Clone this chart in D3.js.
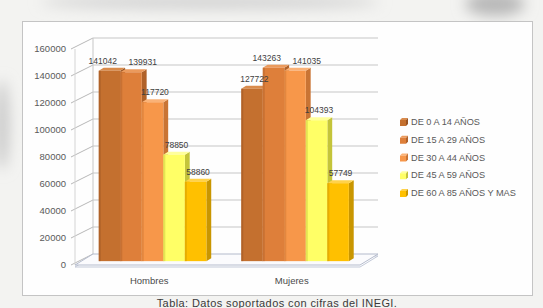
<!DOCTYPE html>
<html>
<head>
<meta charset="utf-8">
<script src="https://cdn.jsdelivr.net/npm/d3@7"></script>
<style>
    body { margin: 0; background: #f3f3f1; }
    svg { display: block; }
</style>
</head>
<body>
<svg id="chart" width="543" height="308"></svg>
<script>
// Data
const CATEGORIES = ["Hombres", "Mujeres"];
const SERIES = [
    "DE 0 A 14 AÑOS",
    "DE 15 A 29 AÑOS",
    "DE 30 A 44 AÑOS",
    "DE 45 A 59 AÑOS",
    "DE 60 A 85 AÑOS Y MAS"
];
const HOMBRES_VALUES = [141042, 139931, 117720, 78850, 58860];
const MUJERES_VALUES = [127722, 143263, 141035, 104393, 57749];
const Y_TICKS = [0, 20000, 40000, 60000, 80000, 100000, 120000, 140000, 160000];
const CAPTION = "Tabla: Datos soportados con cifras del INEGI.";

// Face colours per series: front, side, top
const FRONT_COLORS = ["#c4702f", "#de7f3a", "#f7974a", "#ffff66", "#ffc000"];
const SIDE_COLORS = ["#985322", "#b0622a", "#c97434", "#c4c43a", "#c99600"];
const TOP_COLORS = ["#d98b4c", "#eb9a5c", "#fab277", "#ffff9c", "#ffd24a"];

class ColumnChart3D {

    constructor(svgId) {
        const self = this;
        self._svg = d3.select("#" + svgId);

        // depth of the 3D box, and where the bars sit inside it
        self._depthX = 18;
        self._depthY = -11;
        self._frontFrac = 0.35;
        self._backFrac = 0.62;

        self._x0 = d3.scaleBand()
            .domain(CATEGORIES)
            .range([75, 360]);

        self._x1 = d3.scaleBand()
            .domain(SERIES)
            .range([0, self._x0.bandwidth()])
            .paddingInner(0)
            .paddingOuter(0.81);

        self._y = d3.scaleLinear()
            .domain([0, 160000])
            .range([265, 49]);
    }

    draw() {
        const self = this;
        const svg = self._svg;
        const dx = self._depthX;
        const dy = self._depthY;
        const x0 = self._x0;
        const x1 = self._x1;
        const y = self._y;
        const [left, right] = x0.range();

        const drawBackground = () => {
            const defs = svg.append("defs");
            defs.append("filter")
                .attr("id", "blur")
                .attr("x", "-50%").attr("y", "-50%")
                .attr("width", "200%").attr("height", "200%")
                .append("feGaussianBlur")
                .attr("stdDeviation", 7);

            const smudges = svg.append("g").attr("filter", "url(#blur)");
            smudges.append("ellipse")
                .attr("cx", 210).attr("cy", 2).attr("rx", 170).attr("ry", 7)
                .attr("fill", "#d2d2d2");
            smudges.append("ellipse")
                .attr("cx", 495).attr("cy", 4).attr("rx", 30).attr("ry", 12)
                .attr("fill", "#b8b8b8");
            smudges.append("ellipse")
                .attr("cx", 2).attr("cy", 125).attr("rx", 7).attr("ry", 45)
                .attr("fill", "#c8c8c8");

            svg.append("rect")
                .attr("x", 22.5).attr("y", 21.5)
                .attr("width", 510).attr("height", 274)
                .attr("fill", "#fefefe")
                .attr("stroke", "#c4c4c4");
        };

        const drawWalls = () => {
            const g = svg.append("g").attr("fill", "none");

            // back wall gridlines
            g.selectAll(".grid")
                .data(Y_TICKS.filter((t) => t > 0))
                .enter()
                .append("line")
                .classed("grid", true)
                .attr("x1", left + dx).attr("x2", right + dx)
                .attr("y1", (t) => y(t) + dy).attr("y2", (t) => y(t) + dy)
                .attr("stroke", "#c6c6c6");

            // side wall slants
            g.selectAll(".slant")
                .data(Y_TICKS)
                .enter()
                .append("line")
                .classed("slant", true)
                .attr("x1", left - 4).attr("x2", left + dx)
                .attr("y1", (t) => y(t)).attr("y2", (t) => y(t) + dy)
                .attr("stroke", "#b8b8b8");

            g.append("line")
                .attr("x1", left + dx).attr("x2", left + dx)
                .attr("y1", y(0) + dy).attr("y2", y(160000) + dy)
                .attr("stroke", "#c6c6c6");
            g.append("line")
                .attr("x1", left).attr("x2", left)
                .attr("y1", y(0)).attr("y2", y(160000))
                .attr("stroke", "#d4d4d4");

            // floor, with a thin edge
            const floor = [
                [left, y(0)], [right, y(0)],
                [right + dx, y(0) + dy], [left + dx, y(0) + dy]
            ];
            g.append("polygon")
                .attr("points", floor.map((p) => [p[0], p[1] + 2].join(",")).join(" "))
                .attr("stroke", "#c3c9d8");
            g.append("polygon")
                .attr("points", floor.map((p) => p.join(",")).join(" "))
                .attr("fill", "#fbfbfd")
                .attr("stroke", "#b4bbcc");
        };

        const drawAxisLabels = () => {
            svg.append("g")
                .selectAll("text")
                .data(Y_TICKS)
                .enter()
                .append("text")
                .attr("x", 66)
                .attr("y", (t) => y(t))
                .attr("dy", "0.35em")
                .attr("text-anchor", "end")
                .attr("font-family", "Liberation Sans, Arial, sans-serif")
                .attr("font-size", 9.5)
                .attr("fill", "#5a5a5a")
                .text((t) => t);

            svg.append("g")
                .selectAll("text")
                .data(CATEGORIES)
                .enter()
                .append("text")
                .attr("x", (c) => x0(c) + x0.bandwidth() / 2 + 3)
                .attr("y", 284)
                .attr("text-anchor", "middle")
                .attr("font-family", "Liberation Sans, Arial, sans-serif")
                .attr("font-size", 9.5)
                .attr("fill", "#4a4a4a")
                .text((c) => c);
        };

        const barInfo = [];
        CATEGORIES.forEach((category, ci) => {
            const values = ci === 0 ? HOMBRES_VALUES : MUJERES_VALUES;
            SERIES.forEach((series, si) => {
                barInfo.push({
                    "category": category,
                    "series": series,
                    "index": si,
                    "value": values[si]
                });
            });
        });

        const barGeometry = (d) => {
            const ff = self._frontFrac;
            const sx = (self._backFrac - ff) * dx;
            const sy = (self._backFrac - ff) * dy;
            const x = x0(d["category"]) + x1(d["series"]) + ff * dx;
            const w = x1.bandwidth();
            const top = y(d["value"]) + ff * dy;
            const bottom = y(0) + ff * dy;
            return {x: x, w: w, top: top, bottom: bottom, sx: sx, sy: sy};
        };

        const drawBars = () => {
            const toPoints = (pts) => pts.map((p) => p.join(",")).join(" ");

            const groups = svg.append("g")
                .selectAll(".bar")
                .data(barInfo)
                .enter()
                .append("g")
                .classed("bar", true);

            groups.append("polygon")
                .attr("points", (d) => {
                    const b = barGeometry(d);
                    return toPoints([
                        [b.x + b.w, b.top], [b.x + b.w + b.sx, b.top + b.sy],
                        [b.x + b.w + b.sx, b.bottom + b.sy], [b.x + b.w, b.bottom]
                    ]);
                })
                .attr("fill", (d) => SIDE_COLORS[d["index"]]);

            groups.append("polygon")
                .attr("points", (d) => {
                    const b = barGeometry(d);
                    return toPoints([
                        [b.x, b.top], [b.x + b.sx, b.top + b.sy],
                        [b.x + b.w + b.sx, b.top + b.sy], [b.x + b.w, b.top]
                    ]);
                })
                .attr("fill", (d) => TOP_COLORS[d["index"]]);

            groups.append("rect")
                .attr("x", (d) => barGeometry(d).x)
                .attr("y", (d) => barGeometry(d).top)
                .attr("width", (d) => barGeometry(d).w)
                .attr("height", (d) => barGeometry(d).bottom - barGeometry(d).top)
                .attr("fill", (d) => FRONT_COLORS[d["index"]]);

            // darker seam on the left of every front face
            groups.append("rect")
                .attr("x", (d) => barGeometry(d).x)
                .attr("y", (d) => barGeometry(d).top)
                .attr("width", 2)
                .attr("height", (d) => barGeometry(d).bottom - barGeometry(d).top)
                .attr("fill", (d) => SIDE_COLORS[d["index"]])
                .attr("opacity", 0.45);
        };

        const drawValueLabels = () => {
            const labelW = 30;
            const labelH = 9;
            const labels = barInfo.map((d) => {
                const b = barGeometry(d);
                return {
                    "datum": d,
                    "x": b.x + b.w / 2 + b.sx / 2,
                    "y": b.top + b.sy - 7
                };
            });

            // push apart labels that would sit on top of each other
            for (let pass = 0; pass < 4; pass++) {
                for (let i = 1; i < labels.length; i++) {
                    const a = labels[i - 1];
                    const b = labels[i];
                    if (a["datum"]["category"] !== b["datum"]["category"]) {
                        continue;
                    }
                    const overlapX = labelW + 10 - (b["x"] - a["x"]);
                    const overlapY = labelH - Math.abs(b["y"] - a["y"]);
                    if (overlapX > 0 && overlapY > 0) {
                        a["x"] -= overlapX / 2;
                        b["x"] += overlapX / 2;
                    }
                }
            }

            svg.append("g")
                .selectAll("text")
                .data(labels)
                .enter()
                .append("text")
                .attr("x", (l) => l["x"])
                .attr("y", (l) => l["y"])
                .attr("dy", "0.35em")
                .attr("text-anchor", "middle")
                .attr("font-family", "Liberation Sans, Arial, sans-serif")
                .attr("font-size", 8.5)
                .attr("fill", "#404040")
                .text((l) => l["datum"]["value"]);
        };

        const drawLegend = () => {
            const legendY = d3.scalePoint()
                .domain(SERIES)
                .range([122, 193]);

            const items = svg.append("g")
                .selectAll(".legend-item")
                .data(SERIES)
                .enter()
                .append("g")
                .classed("legend-item", true)
                .attr("transform", (s) => "translate(403 " + legendY(s) + ")");

            items.append("polygon")
                .attr("points", "-3,-2 -1,-4 5,-4 3,-2")
                .attr("fill", (s, i) => TOP_COLORS[i]);
            items.append("polygon")
                .attr("points", "3,-2 5,-4 5,2 3,4")
                .attr("fill", (s, i) => SIDE_COLORS[i]);
            items.append("rect")
                .attr("x", -3).attr("y", -2)
                .attr("width", 6).attr("height", 6)
                .attr("fill", (s, i) => FRONT_COLORS[i]);

            items.append("text")
                .attr("x", 8)
                .attr("y", 0)
                .attr("dy", "0.35em")
                .attr("font-family", "Liberation Sans, Arial, sans-serif")
                .attr("font-size", 9.2)
                .attr("fill", "#595959")
                .text((s) => s);
        };

        const drawCaption = () => {
            svg.append("text")
                .attr("x", 277)
                .attr("y", 307)
                .attr("text-anchor", "middle")
                .attr("font-family", "Liberation Sans, Arial, sans-serif")
                .attr("font-size", 11)
                .attr("letter-spacing", 0.4)
                .attr("fill", "#3a3a3a")
                .text(CAPTION);
        };

        drawBackground();
        drawWalls();
        drawAxisLabels();
        drawBars();
        drawValueLabels();
        drawLegend();
        drawCaption();
    }
}

const chart = new ColumnChart3D("chart");
chart.draw();
</script>
</body>
</html>
